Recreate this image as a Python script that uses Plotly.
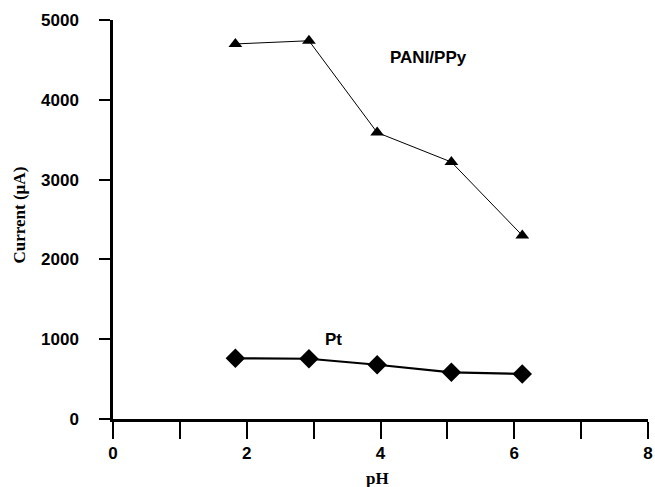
import plotly.graph_objects as go

ph_pani = [1.83, 2.93, 3.95, 5.06, 6.12]
cur_pani = [4700, 4740, 3590, 3220, 2300]
ph_pt = [1.83, 2.93, 3.95, 5.06, 6.12]
cur_pt = [760, 755, 680, 585, 565]

x_tickvals = [0, 1, 2, 3, 4, 5, 6, 7, 8]
x_ticktext = ["0", "", "2", "", "4", "", "6", "", "8"]
y_tickvals = [0, 1000, 2000, 3000, 4000, 5000]

sans = "Liberation Sans"
serif = "Liberation Serif"

fig = go.Figure()
fig.add_trace(go.Scatter(
    x=ph_pani, y=cur_pani, mode="lines+markers",
    line=dict(color="black", width=1),
    marker=dict(symbol="triangle-up", size=12, color="black"),
    showlegend=False, cliponaxis=False))
fig.add_trace(go.Scatter(
    x=ph_pt, y=cur_pt, mode="lines+markers",
    line=dict(color="black", width=2.2),
    marker=dict(symbol="diamond", size=15, color="black"),
    showlegend=False, cliponaxis=False))

fig.update_layout(
    width=655, height=487,
    margin=dict(l=113, r=7, t=20, b=68, autoexpand=False),
    paper_bgcolor="white", plot_bgcolor="white",
    font=dict(family=sans, color="black"),
    xaxis=dict(range=[0, 8], tickvals=x_tickvals, ticktext=x_ticktext,
               automargin=False, ticklabeloverflow="allow",
               showgrid=False, zeroline=False, showline=True,
               linecolor="black", linewidth=2.5,
               ticks="outside", ticklen=17, tickwidth=1.5, tickcolor="black",
               tickfont=dict(family=sans, size=17, color="black", weight="bold"),
               ticklabelstandoff=0),
    yaxis=dict(range=[0, 5000], tickvals=y_tickvals,
               automargin=False, ticklabeloverflow="allow",
               showgrid=False, zeroline=False, showline=True,
               linecolor="black", linewidth=2.5,
               ticks="outside", ticklen=11, tickwidth=1.5, tickcolor="black",
               tickfont=dict(family=sans, size=17, color="black", weight="bold"),
               ticklabelstandoff=17),
    annotations=[
        dict(text="<b>PANI/PPy</b>", x=4.72, y=4530, xref="x", yref="y",
             showarrow=False, font=dict(family=sans, size=17, color="black")),
        dict(text="<b>Pt</b>", x=3.3, y=1000, xref="x", yref="y",
             showarrow=False, font=dict(family=sans, size=17, color="black")),
        dict(text="<b>Current (µA)</b>", x=0, y=0.51, xref="paper", yref="paper",
             xanchor="center", yanchor="middle", xshift=-93, textangle=-90,
             showarrow=False, font=dict(family=serif, size=17, color="black")),
        dict(text="<b>pH</b>", x=3.95, y=0, xref="x", yref="paper",
             xanchor="center", yanchor="middle", yshift=-59,
             showarrow=False, font=dict(family=serif, size=17, color="black")),
    ],
)

fig.write_html("out.html", config={"displayModeBar": False},
               post_script="document.body.style.margin='0px';")
